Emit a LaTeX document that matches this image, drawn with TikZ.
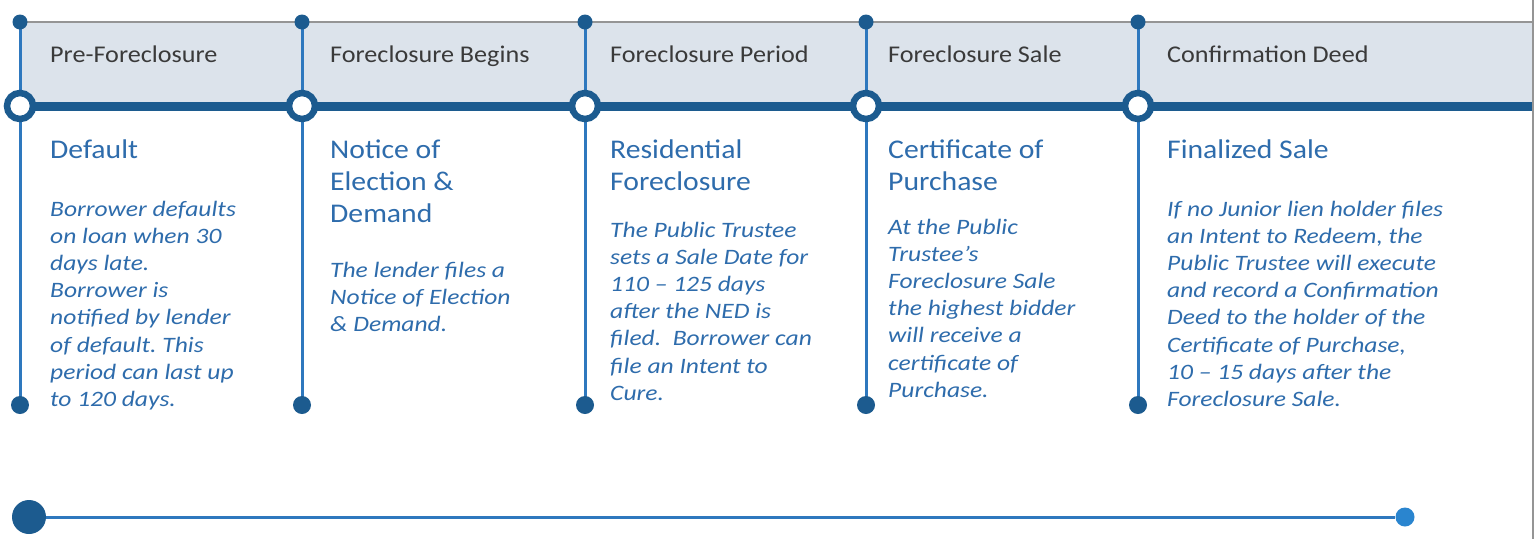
\documentclass[tikz,border=0pt]{standalone}
\usepackage{fontspec}
\setmainfont{Carlito}
\newfontfamily\hdrfont[FakeStretch=1.09,Ligatures=TeX]{Carlito}
\newfontfamily\ttlfont[FakeStretch=1.1,Ligatures=TeX]{Carlito}
\newfontfamily\bodyfont[FakeStretch=1.16,Ligatures=TeX]{Carlito}
\frenchspacing
\definecolor{band}{HTML}{DCE3EB}
\definecolor{darkblue}{HTML}{1C5B8F}
\definecolor{midblue}{HTML}{2E78BE}
\definecolor{txtblue}{HTML}{2E6CAC}
\definecolor{hdrgray}{HTML}{3A3A3A}
\definecolor{edgegray}{HTML}{959595}
\definecolor{endblue}{HTML}{2A85CF}
\newcommand\ml[1]{\begin{tabular}[t]{@{}l@{}}#1\end{tabular}}
\tikzset{
  hdr/.style={anchor=base west, inner sep=0pt, text=hdrgray, font=\hdrfont\fontsize{24}{29}\selectfont},
  ttl/.style={anchor=base west, inner sep=0pt, text=txtblue, font=\ttlfont\fontsize{27}{32}\selectfont},
  body/.style={anchor=base west, inner sep=0pt, text=txtblue, font=\bodyfont\fontsize{22}{27.2}\selectfont\itshape\frenchspacing},
  vline/.style={draw=midblue, line width=3pt},
  topdot/.style={circle, fill=darkblue, inner sep=0pt, minimum size=15pt},
  botdot/.style={circle, fill=darkblue, inner sep=0pt, minimum size=18pt},
  ring/.style={circle, draw=darkblue, fill=white, line width=6.5pt, inner sep=0pt, minimum size=26pt},
}
\begin{document}
\begin{tikzpicture}[x=1pt,y=-1pt]
\useasboundingbox (0,0) rectangle (1535,539);
\fill[white] (0,0) rectangle (1535,539);
% right edge line
\coordinate (e1) at (1533,0);
\coordinate (e2) at (1533,539);
\draw[edgegray, line width=2pt] (e1) -- (e2);
% header band
\fill[band] (20,22) rectangle (1532,102);
\coordinate (gl) at (20,22);
\coordinate (gr) at (1533,22);
\draw[edgegray, line width=2pt] (gl) -- (gr);
\coordinate (tl) at (20,106);
\coordinate (tr) at (1532,106);
\draw[darkblue, line width=9pt] (tl) -- (tr);
% columns
\foreach \i/\x in {1/20,2/302,3/585,4/866,5/1138}{
  \coordinate (t\i) at (\x,22);
  \coordinate (m\i) at (\x,106);
  \coordinate (b\i) at (\x,405);
  \draw[vline] (t\i) -- (b\i);
  \node[topdot] (td\i) at (t\i) {};
  \node[botdot] (bd\i) at (b\i) {};
  \node[ring] (r\i) at (m\i) {};
}
% headers
\node[hdr] (h1) at (50,62) {Pre-Foreclosure};
\node[hdr] (h2) at (330,62) {Foreclosure Begins};
\node[hdr] (h3) at (610,62) {Foreclosure Period};
\node[hdr] (h4) at (888,62) {Foreclosure Sale};
\node[hdr] (h5) at (1167,62) {Confirmation Deed};
% titles
\node[ttl] (c1) at (50,158) {Default};
\node[ttl] (c2) at (330,158) {\ml{Notice of\\Election \&\\Demand}};
\node[ttl] (c3) at (610,158) {\ml{Residential\\Foreclosure}};
\node[ttl] (c4) at (888,158) {\ml{Certificate of\\Purchase}};
\node[ttl] (c5) at (1167,158) {Finalized Sale};
% bodies
\node[body] (d1) at (50,216) {\ml{Borrower defaults\\on loan when 30\\days late.\\Borrower is\\notified by lender\\of default. This\\period can last up\\to 120 days.}};
\node[body] (d2) at (330,277) {\ml{The lender files a\\Notice of Election\\\& Demand.}};
\node[body] (d3) at (610,237) {\ml{The Public Trustee\\sets a Sale Date for\\110 – 125 days\\after the NED is\\filed.\ \ Borrower can\\file an Intent to\\Cure.}};
\node[body] (d4) at (888,234) {\ml{At the Public\\Trustee’s\\Foreclosure Sale\\the highest bidder\\will receive a\\certificate of\\Purchase.}};
\node[body] (d5) at (1167,216) {\ml{If no Junior lien holder files\\an Intent to Redeem, the\\Public Trustee will execute\\and record a Confirmation\\Deed to the holder of the\\Certificate of Purchase,\\10 – 15 days after the\\Foreclosure Sale.}};
% bottom timeline
\node[circle, fill=darkblue, inner sep=0pt, minimum size=34pt] (s) at (29,517) {};
\node[circle, fill=endblue, inner sep=0pt, minimum size=19pt] (f) at (1405,517) {};
\draw[midblue, line width=3pt] (s) -- (f);
\end{tikzpicture}
\end{document}
